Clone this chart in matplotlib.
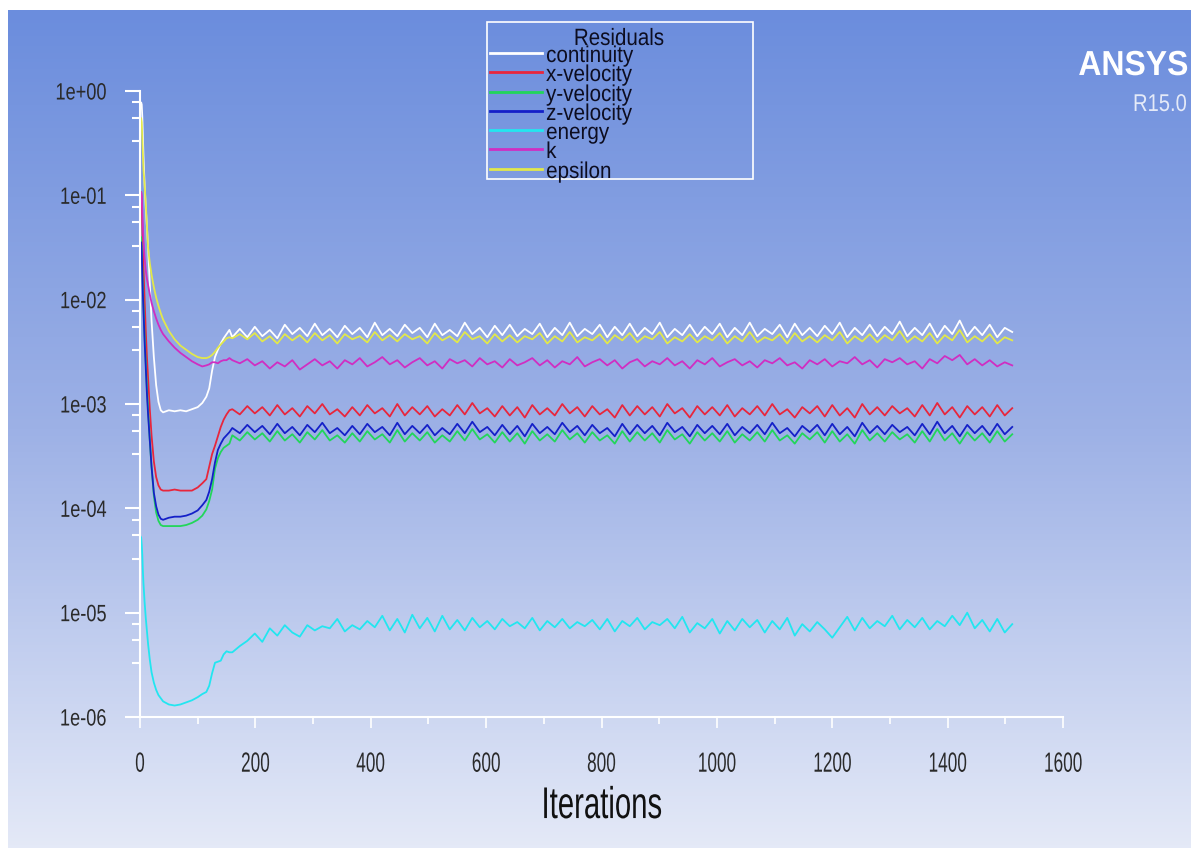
import numpy as np
import matplotlib
matplotlib.use("Agg")
import matplotlib.pyplot as plt
from matplotlib.lines import Line2D
from matplotlib.patches import Rectangle
from matplotlib.colors import LinearSegmentedColormap
from matplotlib.patheffects import AbstractPathEffect
from matplotlib.transforms import Affine2D

# iteration numbers: irregular early points, then every 13 iterations
iters_start = [1, 2, 3, 4, 5, 6, 8, 10, 12, 14, 17, 20, 24, 28, 32, 36, 40, 50, 60, 70,
               80, 90, 100, 108, 115, 120, 125, 130, 135, 140, 145, 150, 155]
iters_steady = list(range(160, 1513, 13))

# residuals as log10 values
continuity_log = [
    -0.15, -0.11, -0.13, -0.25, -0.45, -0.62, -0.90, -1.12, -1.30, -1.50, -1.86, -2.20, -2.55, -2.82, -2.98, -3.06, -3.08,
    -3.06, -3.07, -3.06, -3.07, -3.05, -3.03, -2.99, -2.93, -2.85, -2.68, -2.55, -2.48, -2.42, -2.37, -2.33, -2.29,
    -2.36, -2.28, -2.36, -2.26, -2.35, -2.29, -2.37, -2.24, -2.33, -2.27,
    -2.35, -2.23, -2.34, -2.28, -2.36, -2.25, -2.33, -2.27, -2.36, -2.22,
    -2.34, -2.28, -2.35, -2.24, -2.32, -2.27, -2.36, -2.23, -2.34, -2.29,
    -2.35, -2.22, -2.33, -2.27, -2.36, -2.25, -2.34, -2.24, -2.35, -2.28,
    -2.33, -2.23, -2.36, -2.27, -2.34, -2.22, -2.35, -2.28, -2.33, -2.24,
    -2.36, -2.26, -2.34, -2.23, -2.35, -2.27, -2.33, -2.22, -2.36, -2.28,
    -2.34, -2.24, -2.35, -2.26, -2.33, -2.23, -2.36, -2.27, -2.34, -2.22,
    -2.35, -2.28, -2.33, -2.24, -2.36, -2.23, -2.34, -2.27, -2.35, -2.25,
    -2.33, -2.22, -2.36, -2.27, -2.34, -2.24, -2.35, -2.26, -2.33, -2.21,
    -2.35, -2.27, -2.34, -2.23, -2.36, -2.25, -2.33, -2.20, -2.35, -2.26,
    -2.34, -2.24, -2.36, -2.27, -2.31,
]
x_velocity_log = [
    -1.10, -0.97, -1.05, -1.30, -1.50, -1.70, -2.00, -2.30, -2.55, -2.75, -3.05, -3.30, -3.55, -3.70, -3.78, -3.82, -3.83,
    -3.83, -3.82, -3.83, -3.83, -3.83, -3.80, -3.76, -3.72, -3.60, -3.48, -3.40, -3.31, -3.22, -3.15, -3.10, -3.06,
    -3.05, -3.10, -3.02, -3.09, -3.03, -3.11, -3.01, -3.10, -3.04, -3.12,
    -3.02, -3.09, -3.00, -3.10, -3.05, -3.12, -3.03, -3.11, -3.01, -3.09,
    -3.04, -3.12, -3.00, -3.11, -3.03, -3.10, -3.02, -3.12, -3.05, -3.11,
    -3.01, -3.10, -2.99, -3.09, -3.04, -3.12, -3.02, -3.11, -3.03, -3.13,
    -3.01, -3.10, -3.04, -3.11, -3.00, -3.09, -3.03, -3.12, -3.02, -3.10,
    -3.05, -3.13, -3.01, -3.11, -3.02, -3.10, -3.03, -3.12, -3.00, -3.09,
    -3.04, -3.13, -3.02, -3.10, -3.03, -3.11, -3.01, -3.12, -3.04, -3.10,
    -3.02, -3.11, -3.00, -3.10, -3.05, -3.13, -3.03, -3.09, -3.02, -3.12,
    -3.01, -3.11, -3.04, -3.13, -3.00, -3.10, -3.03, -3.11, -3.02, -3.09,
    -3.04, -3.12, -3.01, -3.11, -2.99, -3.10, -3.03, -3.13, -3.02, -3.10,
    -3.03, -3.12, -3.01, -3.11, -3.04,
]
y_velocity_log = [
    -1.45, -1.40, -1.50, -1.70, -1.90, -2.05, -2.35, -2.60, -2.85, -3.05, -3.35, -3.60, -3.88, -4.04, -4.12, -4.16, -4.17,
    -4.17, -4.17, -4.17, -4.16, -4.14, -4.11, -4.07, -4.01, -3.93, -3.82, -3.62, -3.52, -3.46, -3.42, -3.40, -3.38,
    -3.30, -3.35, -3.27, -3.34, -3.28, -3.36, -3.26, -3.35, -3.29, -3.37,
    -3.27, -3.34, -3.25, -3.35, -3.30, -3.37, -3.28, -3.36, -3.26, -3.34,
    -3.29, -3.37, -3.25, -3.36, -3.28, -3.35, -3.27, -3.37, -3.30, -3.36,
    -3.26, -3.35, -3.24, -3.34, -3.29, -3.37, -3.27, -3.36, -3.28, -3.38,
    -3.26, -3.35, -3.29, -3.36, -3.25, -3.34, -3.28, -3.37, -3.27, -3.35,
    -3.30, -3.38, -3.26, -3.36, -3.27, -3.35, -3.28, -3.37, -3.25, -3.34,
    -3.29, -3.38, -3.27, -3.35, -3.28, -3.36, -3.26, -3.37, -3.29, -3.35,
    -3.27, -3.36, -3.25, -3.35, -3.30, -3.38, -3.28, -3.34, -3.27, -3.37,
    -3.26, -3.36, -3.29, -3.38, -3.25, -3.35, -3.28, -3.36, -3.27, -3.34,
    -3.29, -3.37, -3.26, -3.36, -3.24, -3.35, -3.28, -3.38, -3.27, -3.35,
    -3.28, -3.37, -3.26, -3.36, -3.29,
]
z_velocity_log = [
    -1.50, -1.45, -1.55, -1.75, -1.95, -2.10, -2.40, -2.65, -2.90, -3.10, -3.35, -3.60, -3.85, -3.98, -4.06, -4.10, -4.11,
    -4.09, -4.08, -4.08, -4.07, -4.05, -4.02, -3.97, -3.92, -3.84, -3.72, -3.56, -3.44, -3.38, -3.33, -3.30, -3.27,
    -3.23, -3.28, -3.20, -3.27, -3.21, -3.29, -3.19, -3.28, -3.22, -3.30,
    -3.20, -3.27, -3.18, -3.28, -3.23, -3.30, -3.21, -3.29, -3.19, -3.27,
    -3.22, -3.30, -3.18, -3.29, -3.21, -3.28, -3.20, -3.30, -3.23, -3.29,
    -3.19, -3.28, -3.17, -3.27, -3.22, -3.30, -3.20, -3.29, -3.21, -3.31,
    -3.19, -3.28, -3.22, -3.29, -3.18, -3.27, -3.21, -3.30, -3.20, -3.28,
    -3.23, -3.31, -3.19, -3.29, -3.20, -3.28, -3.21, -3.30, -3.18, -3.27,
    -3.22, -3.31, -3.20, -3.28, -3.21, -3.29, -3.19, -3.30, -3.22, -3.28,
    -3.20, -3.29, -3.18, -3.28, -3.23, -3.31, -3.21, -3.27, -3.20, -3.30,
    -3.19, -3.29, -3.22, -3.31, -3.18, -3.28, -3.21, -3.29, -3.20, -3.27,
    -3.22, -3.30, -3.19, -3.29, -3.17, -3.28, -3.21, -3.31, -3.20, -3.28,
    -3.21, -3.30, -3.19, -3.29, -3.22,
]
energy_log = [
    -4.27, -4.28, -4.35, -4.45, -4.60, -4.72, -4.90, -5.05, -5.18, -5.30, -5.45, -5.57, -5.67, -5.74, -5.79, -5.82, -5.85,
    -5.88, -5.89, -5.88, -5.86, -5.84, -5.81, -5.78, -5.76, -5.70, -5.58, -5.48, -5.47, -5.46, -5.40, -5.37, -5.38,
    -5.38, -5.32, -5.27, -5.20, -5.28, -5.15, -5.22, -5.12, -5.19, -5.23,
    -5.12, -5.17, -5.13, -5.15, -5.06, -5.18, -5.12, -5.16, -5.08, -5.14,
    -5.03, -5.17, -5.06, -5.19, -5.02, -5.15, -5.05, -5.18, -5.03, -5.16,
    -5.07, -5.17, -5.05, -5.14, -5.08, -5.16, -5.06, -5.13, -5.09, -5.15,
    -5.05, -5.17, -5.08, -5.14, -5.06, -5.15, -5.09, -5.13, -5.07, -5.16,
    -5.06, -5.18, -5.08, -5.13, -5.05, -5.16, -5.09, -5.12, -5.06, -5.15,
    -5.04, -5.19, -5.10, -5.15, -5.06, -5.20, -5.08, -5.17, -5.06, -5.14,
    -5.07, -5.19, -5.08, -5.16, -5.05, -5.22, -5.11, -5.18, -5.09, -5.16,
    -5.24, -5.14, -5.04, -5.17, -5.05, -5.15, -5.08, -5.13, -5.03, -5.16,
    -5.07, -5.14, -5.05, -5.16, -5.08, -5.13, -5.03, -5.12, -5.00, -5.15,
    -5.07, -5.18, -5.06, -5.19, -5.11,
]
k_log = [
    -1.05, -0.97, -1.00, -1.15, -1.30, -1.42, -1.60, -1.72, -1.80, -1.86, -1.95, -2.03, -2.11, -2.18, -2.24, -2.29, -2.33,
    -2.40, -2.46, -2.51, -2.55, -2.59, -2.62, -2.64, -2.63, -2.62, -2.60, -2.60, -2.61, -2.59, -2.58, -2.58, -2.56,
    -2.58, -2.61, -2.57, -2.63, -2.59, -2.66, -2.60, -2.64, -2.58, -2.67,
    -2.62, -2.57, -2.63, -2.59, -2.66, -2.58, -2.62, -2.56, -2.64, -2.60,
    -2.55, -2.62, -2.58, -2.65, -2.60, -2.56, -2.63, -2.59, -2.66, -2.57,
    -2.61, -2.58, -2.64, -2.56, -2.62, -2.59, -2.65, -2.57, -2.63, -2.60,
    -2.56, -2.63, -2.58, -2.65, -2.59, -2.62, -2.55, -2.64, -2.60, -2.57,
    -2.63, -2.58, -2.66, -2.60, -2.57, -2.64, -2.59, -2.62, -2.56, -2.63,
    -2.59, -2.66, -2.58, -2.62, -2.56, -2.64, -2.60, -2.57, -2.63, -2.59,
    -2.65, -2.58, -2.61, -2.56, -2.63, -2.60, -2.66, -2.58, -2.62, -2.57,
    -2.64, -2.59, -2.61, -2.55, -2.62, -2.58, -2.65, -2.57, -2.60, -2.56,
    -2.62, -2.59, -2.66, -2.57, -2.61, -2.54, -2.58, -2.53, -2.62, -2.57,
    -2.63, -2.58, -2.64, -2.60, -2.63,
]
epsilon_log = [
    -0.30, -0.26, -0.30, -0.45, -0.62, -0.75, -0.90, -1.08, -1.30, -1.50, -1.65, -1.76, -1.88, -1.98, -2.06, -2.13, -2.19,
    -2.30, -2.38, -2.44, -2.48, -2.52, -2.55, -2.56, -2.56, -2.55, -2.53, -2.50, -2.46, -2.43, -2.40, -2.37, -2.36,
    -2.37, -2.33, -2.38, -2.32, -2.40, -2.35, -2.42, -2.33, -2.39, -2.34,
    -2.41, -2.32, -2.39, -2.34, -2.42, -2.33, -2.38, -2.35, -2.41, -2.31,
    -2.39, -2.34, -2.40, -2.33, -2.38, -2.35, -2.42, -2.32, -2.39, -2.35,
    -2.41, -2.31, -2.38, -2.35, -2.42, -2.33, -2.40, -2.34, -2.41, -2.35,
    -2.38, -2.32, -2.42, -2.35, -2.40, -2.31, -2.41, -2.36, -2.39, -2.33,
    -2.42, -2.34, -2.39, -2.32, -2.41, -2.35, -2.38, -2.31, -2.42, -2.36,
    -2.40, -2.33, -2.41, -2.35, -2.39, -2.32, -2.42, -2.35, -2.40, -2.31,
    -2.41, -2.36, -2.39, -2.33, -2.42, -2.32, -2.40, -2.35, -2.41, -2.34,
    -2.39, -2.31, -2.42, -2.35, -2.40, -2.33, -2.41, -2.34, -2.39, -2.30,
    -2.41, -2.35, -2.40, -2.32, -2.42, -2.34, -2.39, -2.29, -2.41, -2.35,
    -2.40, -2.33, -2.42, -2.36, -2.39,
]

labels = ["continuity", "x-velocity", "y-velocity", "z-velocity", "energy", "k", "epsilon"]
colors = ["#ffffff", "#e8263c", "#22d65a", "#1420c8", "#22e6f0", "#d02ec2", "#e2e84a"]
series = [continuity_log, x_velocity_log, y_velocity_log, z_velocity_log, energy_log, k_log, epsilon_log]

ytick_vals = [1e0, 1e-1, 1e-2, 1e-3, 1e-4, 1e-5, 1e-6]
ytick_labels = ["1e+00", "1e-01", "1e-02", "1e-03", "1e-04", "1e-05", "1e-06"]
xtick_vals = [0, 200, 400, 600, 800, 1000, 1200, 1400, 1600]

W, H = 1195, 852
font = ["Liberation Sans", "DejaVu Sans"]


class Squeeze(AbstractPathEffect):
    """Draw text narrower (no condensed font installed)."""

    def __init__(self, sx, anchor="left"):
        super().__init__()
        self.sx = sx
        self.anchor = anchor

    def draw_path(self, renderer, gc, tpath, affine, rgbFace=None):
        ext = tpath.get_extents(affine)
        x0 = {"left": ext.x0, "center": (ext.x0 + ext.x1) / 2, "right": ext.x1}[self.anchor]
        sq = Affine2D().translate(-x0, 0).scale(self.sx, 1).translate(x0, 0)
        renderer.draw_path(gc, tpath, affine + sq, rgbFace)


def fx(x):
    return x / W


def fy(y):
    return 1 - y / H


fig = plt.figure(figsize=(W / 100, H / 100), dpi=100)
fig.patch.set_facecolor("white")

# gradient background
bg = fig.add_axes([fx(8), fy(848), fx(1191) - fx(8), fy(10) - fy(848)], zorder=-5)
grad = LinearSegmentedColormap.from_list("ans", ["#6b8ddd", "#9db1e6", "#e4e9f7"])
bg.imshow(np.linspace(0, 1, 256).reshape(-1, 1), aspect="auto", cmap=grad, extent=[0, 1, 0, 1])
bg.axis("off")

ax = fig.add_axes([fx(140), fy(717), fx(1063) - fx(140), fy(91) - fy(717)])
ax.patch.set_alpha(0)

x_all = np.array(iters_start + iters_steady)
for lab, col, vals in zip(labels, colors, series):
    ax.plot(x_all, 10 ** np.array(vals), color=col, lw=1.3)

ax.set_yscale("log")
ax.set_ylim(1e-6, 1)
ax.set_xlim(0, 1600)

ax.set_yticks(ytick_vals, labels=ytick_labels)
minor = [10.0 ** k * m for k in range(-5, 1) for m in (0.78, 0.55, 0.33)]
ax.yaxis.set_minor_locator(matplotlib.ticker.FixedLocator(minor))
ax.yaxis.set_minor_formatter(matplotlib.ticker.NullFormatter())
ax.set_xticks(xtick_vals, labels=[str(v) for v in xtick_vals])
ax.set_xticks(list(range(100, 1600, 200)), minor=True)

for s in ["top", "right"]:
    ax.spines[s].set_visible(False)
for s in ["left", "bottom"]:
    ax.spines[s].set_color("white")
    ax.spines[s].set_linewidth(1.5)

ax.tick_params(axis="y", which="major", direction="out", length=11, width=1.5, color="white",
               pad=13, labelsize=17, labelcolor="#2a2a2a")
ax.tick_params(axis="y", which="minor", direction="out", length=6, width=1.5, color="white")
ax.tick_params(axis="x", which="major", direction="out", length=8, width=1.2, color="white",
               pad=17, labelsize=20, labelcolor="#2a2a2a")
ax.tick_params(axis="x", which="minor", direction="out", length=5, width=1.2, color="white")
for t in ax.get_yticklabels():
    t.set_family(font)
    t.set_path_effects([Squeeze(0.77, "right")])
for t in ax.get_xticklabels():
    t.set_family(font)
    t.set_path_effects([Squeeze(0.62, "center")])

ax.set_xlabel("Iterations", fontsize=32, family=font, color="#111111", labelpad=6)
ax.xaxis.label.set_path_effects([Squeeze(0.66, "center")])

# legend box, drawn in figure coordinates
fig.add_artist(Rectangle((fx(487), fy(179)), fx(753) - fx(487), fy(22) - fy(179),
                         transform=fig.transFigure, fill=False, edgecolor="white", lw=1.2))
fig.text(fx(619), fy(45), "Residuals", ha="center", va="baseline", fontsize=17,
         family=font, color="#0d0d20", path_effects=[Squeeze(0.87, "center")])
row_y = [53, 72, 92, 111, 130, 149, 169]
for lab, col, yy in zip(labels, colors, row_y):
    fig.add_artist(Line2D([fx(490), fx(542)], [fy(yy), fy(yy)], transform=fig.transFigure,
                          color=col, lw=2))
    fig.text(fx(546), fy(yy + 9), lab, ha="left", va="baseline", fontsize=16.5,
             family=font, color="#0d0d20", path_effects=[Squeeze(0.9, "left")])

# logo
fig.text(fx(1189), fy(75), "ANSYS", ha="right", va="baseline", fontsize=25,
         fontweight="bold", family=font, color="white", path_effects=[Squeeze(0.92, "right")])
fig.text(fx(1187), fy(111), "R15.0", ha="right", va="baseline", fontsize=17.5,
         family=font, color="#e4eaf8", path_effects=[Squeeze(0.83, "right")])

fig.savefig("out.png", dpi=100)
